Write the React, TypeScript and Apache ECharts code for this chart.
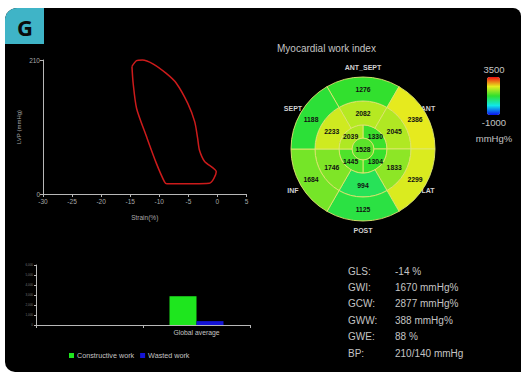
import React, { useEffect, useRef } from 'react';
import * as echarts from 'echarts';

// ---------- Data ----------
// Pressure–strain loop
const loopStrain = [-14.7, -14.5, -13.9, -12.2, -10.5, -9.1, -8.7, -1.4, -0.2, -2.2, -3.1, -3.4, -3.9, -5.1, -7.1, -8.8, -11.1, -12.9, -13.9, -14.7];
const loopPressure = [200, 174, 134, 90, 48, 19, 16, 17, 35, 51, 69, 87, 113, 142, 174, 189, 204, 210, 209, 200];

// Bull's eye (myocardial work index, mmHg%), clockwise
const wallLabels = ['ANT_SEPT', 'ANT', 'LAT', 'POST', 'INF', 'SEPT'];
const basalValues = [1276, 2386, 2299, 1125, 1684, 1188]; // from top, clockwise
const midValues = [2082, 2045, 1833, 994, 1746, 2233]; // from top, clockwise
const apicalValues = [1330, 1304, 1445, 2039]; // from upper-right, clockwise
const apexValues = [1528];
const colorScaleMin = -1000;
const colorScaleMax = 3500;
const colorScaleTicks = ['3500', '-1000'];
const colorScaleUnit = 'mmHg%';

// Bar chart
const barCategories = ['', 'Global average'];
const constructiveWork = [null, 2877];
const wastedWork = [null, 388];

// Summary
const summaryLabels = ['GLS:', 'GWI:', 'GCW:', 'GWW:', 'GWE:', 'BP:'];
const summaryValues = ['-14 %', '1670 mmHg%', '2877 mmHg%', '388 mmHg%', '88 %', '210/140 mmHg'];

// ---------- Layout ----------
const FONT = "'Liberation Sans', Arial, sans-serif";
const TXT = '#c4c4c4';
const AX = '#b8b8b8';
const CX = 363;
const CY = 149;
// ring geometry: index 0 apex, 1 apical, 2 mid, 3 basal
const rings = [
  { r0: 0, r: 11, n: 1, start: 90 },
  { r0: 11, r: 24, n: 4, start: 45 },
  { r0: 24, r: 48, n: 6, start: 90 },
  { r0: 48, r: 72, n: 6, start: 90 },
];

const bullData: number[][] = [];
[apexValues, apicalValues, midValues, basalValues].forEach((arr, ri) =>
  arr.forEach((v, si) => bullData.push([ri, si, v]))
);

const wallLabelPos = [
  [363, 67],
  [428, 108],
  [428, 190],
  [363, 230],
  [293, 190],
  [293, 108],
];

function buildOption(): any {
  const graphics: any[] = [
    { type: 'rect', z: -5, shape: { x: 0, y: 0, width: 521, height: 373 }, style: { fill: '#ffffff' } },
    { type: 'rect', z: -4, shape: { x: 5, y: 8, width: 516, height: 364, r: [12, 8, 0, 10] }, style: { fill: '#000000' } },
    { type: 'rect', z: -3, shape: { x: 5, y: 8, width: 39, height: 36, r: [12, 0, 0, 0] }, style: { fill: '#3fb4c7' } },
    { type: 'text', z: -2, x: 25, y: 27, style: { text: 'G', fill: '#0a0a0a', fontSize: 22, fontWeight: 'bold', fontFamily: "'Open Sans', sans-serif", align: 'center', verticalAlign: 'middle' } },
    { type: 'text', x: 277, y: 48, style: { text: 'Myocardial work index', fill: TXT, fontSize: 10, fontFamily: FONT, verticalAlign: 'middle' } },
    { type: 'text', x: 494, y: 69, style: { text: colorScaleTicks[0], fill: TXT, fontSize: 9.5, fontFamily: FONT, align: 'center', verticalAlign: 'middle' } },
    { type: 'text', x: 494, y: 122, style: { text: colorScaleTicks[1], fill: TXT, fontSize: 9.5, fontFamily: FONT, align: 'center', verticalAlign: 'middle' } },
    { type: 'text', x: 494, y: 138, style: { text: colorScaleUnit, fill: TXT, fontSize: 9.5, fontFamily: FONT, align: 'center', verticalAlign: 'middle' } },
  ];
  wallLabels.forEach((t, i) => {
    graphics.push({ type: 'text', x: wallLabelPos[i][0], y: wallLabelPos[i][1], style: { text: t, fill: '#d0d0d0', fontSize: 7, fontWeight: 'bold', fontFamily: FONT, align: 'center', verticalAlign: 'middle' } });
  });
  summaryLabels.forEach((t, i) => {
    const y = 271 + i * 16.4;
    graphics.push({ type: 'text', x: 348, y, style: { text: t, fill: TXT, fontSize: 10, fontFamily: FONT, verticalAlign: 'middle' } });
    graphics.push({ type: 'text', x: 395, y, style: { text: summaryValues[i], fill: TXT, fontSize: 10, fontFamily: FONT, verticalAlign: 'middle' } });
  });

  return {
    animation: false,
    backgroundColor: '#ffffff',
    textStyle: { fontFamily: FONT },
    graphic: { elements: graphics },
    grid: [
      { left: 43, top: 60, width: 203.5, height: 134 },
      { left: 36, top: 265, width: 214, height: 60 },
    ],
    legend: {
      data: ['Constructive work', 'Wasted work'],
      left: 64,
      top: 347,
      icon: 'rect',
      itemWidth: 5,
      itemHeight: 5,
      itemGap: 6,
      textStyle: { color: TXT, fontSize: 7.2, fontFamily: FONT, padding: [0, 0, 0, -2] },
    },
    xAxis: [
      {
        gridIndex: 0,
        type: 'value',
        min: -30,
        max: 5,
        interval: 5,
        z: 3,
        name: 'Strain(%)',
        nameLocation: 'middle',
        nameGap: 20,
        nameTextStyle: { color: '#a8a8a8', fontSize: 6.5 },
        axisLine: { onZero: false, lineStyle: { color: AX, width: 1 } },
        axisTick: { show: true, length: 3, lineStyle: { color: AX } },
        axisLabel: { color: '#a8a8a8', fontSize: 6.5, margin: 4 },
        splitLine: { show: false },
      },
      {
        gridIndex: 1,
        type: 'category',
        data: barCategories,
        z: 3,
        axisLine: { lineStyle: { color: AX, width: 1 } },
        axisTick: { show: true, length: 3, lineStyle: { color: AX } },
        axisLabel: { color: TXT, fontSize: 6.8, margin: 4 },
      },
    ],
    yAxis: [
      {
        gridIndex: 0,
        type: 'value',
        min: 0,
        max: 210,
        interval: 210,
        z: 3,
        name: 'LVP (mmHg)',
        nameLocation: 'middle',
        nameGap: 21,
        nameRotate: 90,
        nameTextStyle: { color: '#a8a8a8', fontSize: 6 },
        axisLine: { show: true, onZero: false, lineStyle: { color: AX, width: 1 } },
        axisTick: { show: true, length: 3, lineStyle: { color: AX } },
        axisLabel: { color: '#a8a8a8', fontSize: 6.5, margin: 3 },
        splitLine: { show: false },
      },
      {
        gridIndex: 1,
        type: 'value',
        min: 0,
        max: 6000,
        interval: 1000,
        z: 3,
        axisLine: { show: true, onZero: false, lineStyle: { color: AX, width: 1 } },
        axisTick: { show: true, length: 2, lineStyle: { color: AX } },
        axisLabel: { color: '#777', fontSize: 3, margin: 3 },
        splitLine: { show: false },
      },
    ],
    visualMap: {
      type: 'continuous',
      seriesIndex: 3,
      dimension: 2,
      min: colorScaleMin,
      max: colorScaleMax,
      orient: 'vertical',
      left: 487,
      top: 77,
      padding: 0,
      itemWidth: 13,
      itemHeight: 38,
      showLabel: false,
      text: null,
      calculable: false,
      hoverLink: false,
      inRange: { color: ['#0a10f0', '#10e8e8', '#2ee02e', '#e6ec1e', '#f01010'] },
    },
    series: [
      {
        type: 'line',
        xAxisIndex: 0,
        yAxisIndex: 0,
        data: loopStrain.map((s, i) => [s, loopPressure[i]]),
        showSymbol: false,
        smooth: 0.25,
        clip: false,
        lineStyle: { color: '#cc1b1b', width: 1.5 },
      },
      {
        type: 'bar',
        name: 'Constructive work',
        xAxisIndex: 1,
        yAxisIndex: 1,
        data: constructiveWork,
        barWidth: 27,
        barGap: '0%',
        itemStyle: { color: '#1ee61e' },
      },
      {
        type: 'bar',
        name: 'Wasted work',
        xAxisIndex: 1,
        yAxisIndex: 1,
        data: wastedWork,
        barWidth: 27,
        barGap: '0%',
        itemStyle: { color: '#1414d6' },
      },
      {
        type: 'custom',
        coordinateSystem: 'none',
        data: bullData,
        z: 4,
        renderItem: (params: any, api: any) => {
          const ri = api.value(0);
          const si = api.value(1);
          const val = api.value(2);
          const g = rings[ri];
          const color = api.visual('color');
          const span = (2 * Math.PI) / g.n;
          const centerMath = (g.start * Math.PI) / 180 - si * span;
          const sc = -centerMath;
          const children: any[] = [
            {
              type: 'sector',
              shape: {
                cx: CX,
                cy: CY,
                r0: g.r0,
                r: g.r,
                startAngle: g.n === 1 ? 0 : sc - span / 2,
                endAngle: g.n === 1 ? Math.PI * 2 : sc + span / 2,
                clockwise: true,
              },
              style: { fill: color, stroke: '#dfe870', lineWidth: 0.9 },
            },
          ];
          const rm = g.n === 1 ? 0 : (g.r0 + g.r) / 2;
          children.push({
            type: 'text',
            z2: 20,
            x: CX + rm * Math.cos(centerMath),
            y: CY - rm * Math.sin(centerMath),
            style: {
              text: String(val),
              fill: '#111111',
              fontSize: 6.8,
              fontWeight: 'bold',
              fontFamily: FONT,
              align: 'center',
              verticalAlign: 'middle',
            },
          });
          return { type: 'group', children };
        },
      },
    ],
  };
}

export default function App() {
  const ref = useRef<HTMLDivElement>(null);
  useEffect(() => {
    if (!ref.current) return;
    const chart = echarts.init(ref.current, null, { renderer: 'svg' });
    chart.setOption(buildOption());
    return () => chart.dispose();
  }, []);
  return <div ref={ref} style={{ position: 'absolute', left: 0, top: 0, width: 521, height: 373 }} />;
}
